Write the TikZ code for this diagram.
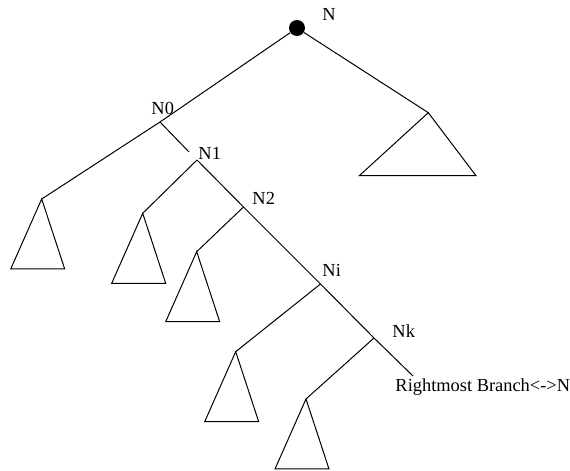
\documentclass[tikz,border=0pt]{standalone}
\usepackage{fontspec}
\setmainfont{Liberation Serif}
% small subtree hanging below an apex
\newcommand{\subtri}[1]{\draw (#1) -- ++(-31,70) -- ++(54,0) -- cycle;}

\begin{document}
\begin{tikzpicture}[x=0.5pt, y=-0.5pt, line width=0.5pt,
  lbl/.style={font=\fontsize{9.2}{11}\selectfont, inner sep=0pt, anchor=base west},
  dot/.style={circle, fill, inner sep=0pt, minimum size=8pt},
]
\useasboundingbox (0,0) rectangle (570,471);

% ---- root ----
\node[dot] (root) at (297,28) {};
\node[lbl] (lN) at (322,20) {N};

% ---- rightmost branch junctions ----
\coordinate (n0) at (160,122);
\coordinate (n0e) at (189,152);
\coordinate (n1) at (197,160);
\coordinate (n2) at (243.5,207);
\coordinate (ni) at (320.5,284);
\coordinate (nk) at (374,338);
\coordinate (rb) at (413,376);

\node[lbl] (lN0) at (151,115) {N0};
\node[lbl] (lN1) at (198,160) {N1};
\node[lbl] (lN2) at (252,205) {N2};
\node[lbl] (lNi) at (322,277) {Ni};
\node[lbl] (lNk) at (392,338) {Nk};
\node[lbl] (lrb) at (395,392) {Rightmost Branch<->N};

% ---- subtree apexes ----
\coordinate (t0) at (41.7,199);
\coordinate (t1) at (142.7,213.3);
\coordinate (t2) at (196.7,251.7);
\coordinate (ti) at (235.7,351.7);
\coordinate (tk) at (306,399);
\coordinate (tr) at (428.3,112.7);

% ---- edges ----
\draw (root) -- (n0) -- (t0);
\draw (n0) -- (n0e);
\draw (n1) -- (t1);
\draw (n1) -- (n2) -- (ni) -- (nk) -- (rb);
\draw (n2) -- (t2);
\draw (ni) -- (ti);
\draw (nk) -- (tk);
\draw (root) -- (tr);

% ---- subtrees ----
\subtri{t0}
\subtri{t1}
\subtri{t2}
\subtri{ti}
\subtri{tk}
\draw (tr) -- (359.3,175.7) -- (476,175.7) -- cycle;

\end{tikzpicture}
\end{document}
